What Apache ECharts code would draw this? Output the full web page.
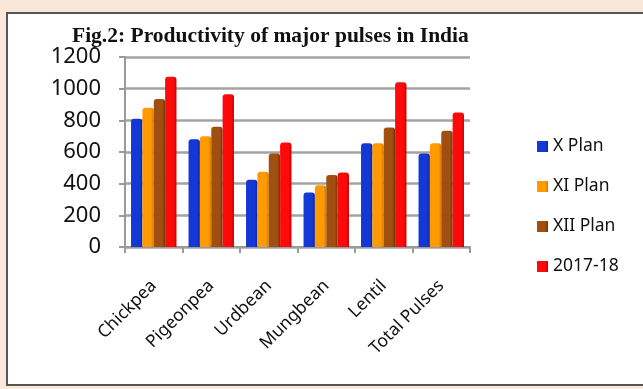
<!DOCTYPE html>
<html>
<head>
<meta charset="utf-8">
<script src="https://cdn.jsdelivr.net/npm/echarts@6/dist/echarts.min.js"></script>
<style>
    html, body {
        margin: 0;
        padding: 0;
        background: #fbe7da;
    }
    #chart {
        width: 643px;
        height: 389px;
    }
</style>
</head>
<body>
<div id="chart"></div>
<script>
// data (kg/ha)
const categories = ['Chickpea', 'Pigeonpea', 'Urdbean', 'Mungbean', 'Lentil', 'Total Pulses']
const seriesNames = ['X Plan', 'XI Plan', 'XII Plan', '2017-18']
const xPlan = [810, 680, 425, 345, 655, 590]
const xiPlan = [880, 700, 475, 390, 655, 655]
const xiiPlan = [935, 760, 590, 455, 755, 735]
const y2017 = [1075, 965, 660, 470, 1040, 850]
const yTicks = [0, 200, 400, 600, 800, 1000, 1200]

const colors = ['#1438d6', '#ff9a00', '#a04f10', '#ff0a0a']
const darker = ['#0a2596', '#d67a00', '#6e350a', '#c00000']

const chart = echarts.init(document.getElementById('chart'))

const makeSeries = (name, data, i) => ({
    name: name,
    type: 'bar',
    data: data,
    barGap: '0%',
    barCategoryGap: '21%',
    itemStyle: {
        color: new echarts.graphic.LinearGradient(0, 0, 1, 0, [
            { offset: 0, color: colors[i] },
            { offset: 0.75, color: colors[i] },
            { offset: 1, color: darker[i] }
        ]),
        borderRadius: [3, 3, 0, 0]
    }
})

chart.setOption({
    backgroundColor: 'transparent',
    animation: false,
    graphic: [
        {
            type: 'rect',
            shape: { x: 7, y: 13, width: 650, height: 372 },
            style: { fill: '#ffffff', stroke: '#555', lineWidth: 2 },
            z: -10
        }
    ],
    title: {
        text: 'Fig.2: Productivity of major pulses in India',
        left: 67,
        top: 20,
        textStyle: {
            fontFamily: 'Liberation Serif',
            fontWeight: 'bold',
            fontSize: 21.5,
            color: '#111'
        }
    },
    legend: {
        orient: 'vertical',
        left: 532,
        top: 131,
        itemWidth: 11,
        itemHeight: 11,
        itemGap: 19,
        icon: 'rect',
        data: seriesNames,
        textStyle: {
            fontFamily: 'Noto Sans',
            fontSize: 17.5,
            lineHeight: 21,
            color: '#111'
        }
    },
    grid: {
        left: 125,
        right: 173,
        top: 57,
        bottom: 142
    },
    xAxis: {
        type: 'category',
        data: categories,
        axisLine: { lineStyle: { color: '#9a9a9a', width: 2 } },
        axisTick: { show: true, length: 6, lineStyle: { color: '#9a9a9a', width: 2 } },
        axisLabel: {
            rotate: 45,
            margin: 36,
            fontFamily: 'Noto Sans',
            fontSize: 17.5,
            color: '#111'
        }
    },
    yAxis: {
        type: 'value',
        min: yTicks[0],
        max: yTicks[yTicks.length - 1],
        interval: 200,
        axisLine: { show: true, lineStyle: { color: '#9a9a9a', width: 2 } },
        axisTick: { show: true, length: 6, lineStyle: { color: '#9a9a9a', width: 2 } },
        splitLine: { lineStyle: { color: '#a3a3a3', width: 2.5 } },
        axisLabel: {
            margin: 24,
            formatter: (v) => String(v),
            fontFamily: 'Noto Sans',
            fontSize: 22,
            color: '#111'
        }
    },
    series: [
        makeSeries(seriesNames[0], xPlan, 0),
        makeSeries(seriesNames[1], xiPlan, 1),
        makeSeries(seriesNames[2], xiiPlan, 2),
        makeSeries(seriesNames[3], y2017, 3)
    ]
})

window.addEventListener('resize', () => chart.resize())
</script>
</body>
</html>
